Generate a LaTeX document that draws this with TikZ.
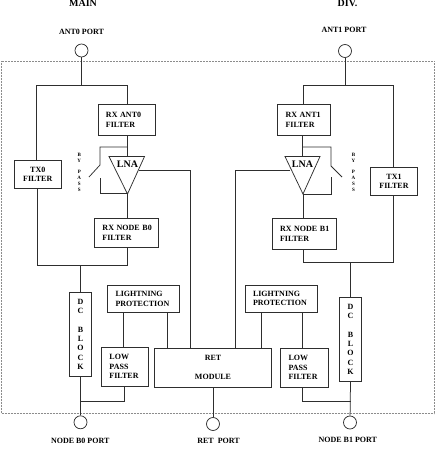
\documentclass[tikz,border=0pt]{standalone}
\usepackage{fontspec}
\setmainfont{Liberation Serif}
\newcommand{\bxn}[8][]{%
  \pgfmathsetmacro{\bw}{#5-#3}\pgfmathsetmacro{\bh}{#6-#4}%
  \pgfmathsetmacro{\tw}{#5-#3-2*#7}%
  \node[boxn,minimum width=\bw pt,minimum height=\bh pt,text width=\tw pt,#1] (#2) at ({(#3+#5)/2},{(#4+#6)/2}) {#8};}
\tikzset{
  x=1pt,y=-1pt,
  ink/.style={draw=black!82,line width=0.75pt},
  boxn/.style={ink,inner sep=0pt,align=left,font=\fontsize{8}{9.3}\selectfont\bfseries},
  conn/.style={ink},
  port/.style={ink,circle,minimum size=13pt,inner sep=0pt},
  lab/.style={font=\fontsize{8}{9.3}\selectfont\bfseries,inner sep=0pt},
  head/.style={font=\fontsize{10}{12}\selectfont\bfseries,inner sep=0pt},
  lnat/.style={font=\fontsize{10}{12}\selectfont\bfseries,inner sep=0pt},
  tiny/.style={font=\fontsize{5}{5.8}\selectfont\bfseries,inner sep=0pt,align=center},
  frame/.style={draw=black!45,densely dotted,line width=0.5pt}
}
\begin{document}
\begin{tikzpicture}
\useasboundingbox (0,0) rectangle (435,451);
\coordinate (fa) at (1.5,61); \coordinate (fb) at (434,413.5);
\draw[frame] (fa) rectangle (fb);
% headings and port labels
\node[head] (hmain) at (83,3.5) {MAIN};
\node[head] (hdiv) at (347.5,3.5) {DIV.};
\node[lab] (lant0) at (81.5,31.7) {ANT0 PORT};
\node[lab] (lant1) at (344,29.7) {ANT1 PORT};
\node[lab] (lb0) at (80.2,441) {NODE B0 PORT};
\node[lab] (lret) at (218.5,440.7) {RET\ \ PORT};
\node[lab] (lb1) at (347.8,440) {NODE B1 PORT};
% ports
\node[port] (p0) at (81.5,50.5) {};
\node[port] (p1) at (345,51) {};
\node[port] (pb0) at (80.5,422.3) {};
\node[port] (pret) at (213,424) {};
\node[port] (pb1) at (350,422.5) {};
% left column
\bxn{rxa0}{98}{104.5}{155.5}{135}{8}{RX ANT0\\FILTER}
\bxn[align=center]{tx0}{14}{160}{61.5}{188.5}{2}{TX0\\FILTER}
\bxn{rxn0}{94.5}{218}{158.5}{247.5}{8}{\mbox{RX NODE B0}\\FILTER}
\bxn[align=center]{dc0}{69.5}{292}{91.5}{376.5}{2}{D\\C\\[9.3pt]B\\L\\O\\C\\K}
\bxn{lp0}{101.5}{347}{148.5}{386}{8}{LOW\\PASS\\FILTER}
\bxn{lg0}{107.5}{285.5}{179.5}{312.5}{8}{LIGHTNING\\\mbox{PROTECTION}}
% right column
\bxn{rxa1}{277.5}{104.5}{330.5}{135}{8}{RX ANT1\\FILTER}
\bxn[align=center]{tx1}{370.5}{167.5}{417.5}{195.5}{2}{TX1\\FILTER}
\bxn{rxn1}{272}{218.5}{336}{249}{8}{\mbox{RX NODE B1}\\FILTER}
\bxn[align=center]{dc1}{339.5}{297}{361.5}{381.5}{2}{D\\C\\[9.3pt]B\\L\\O\\C\\K}
\bxn{lp1}{280.5}{348}{328}{387}{8}{LOW\\PASS\\FILTER}
\bxn{lg1}{245}{285}{317}{312}{8}{LIGHTNING\\\mbox{PROTECTION}}
% RET
\bxn[align=center]{ret}{154.5}{348}{271.5}{387}{2}{RET\\[9.3pt]MODULE}
% LNA triangles
\coordinate (t0a) at (109,156.5); \coordinate (t0b) at (144.5,156.5); \coordinate (t0c) at (127.5,194);
\coordinate (t1a) at (285,156.5); \coordinate (t1b) at (320,156.5); \coordinate (t1c) at (303,194);
\draw[ink,line join=miter] (t0a) -- (t0b) -- (t0c) -- cycle;
\draw[ink,line join=miter] (t1a) -- (t1b) -- (t1c) -- cycle;
\node[lnat] (lna0) at (127.5,164.2) {LNA};
\node[lnat] (lna1) at (302.5,164.2) {LNA};
% bypass labels
\node[tiny] (by0) at (79.3,158) {B\\Y};
\node[tiny] (pass0) at (79.3,181) {P\\A\\S\\S};
\node[tiny] (by1) at (353.5,158) {B\\Y};
\node[tiny] (pass1) at (353.5,181) {P\\A\\S\\S};
% junctions
\coordinate (j0) at (81.5,85); \coordinate (j0l) at (36.5,85); \coordinate (j0r) at (127,85);
\coordinate (k0) at (80.5,265.3); \coordinate (k0l) at (37.5,265.3); \coordinate (k0r) at (127,265.3);
\coordinate (j1) at (345,85); \coordinate (j1l) at (303.5,85); \coordinate (j1r) at (393,85);
\coordinate (k1) at (350.5,262); \coordinate (k1l) at (303.5,262); \coordinate (k1r) at (393.5,262);
% ANT feeds
\draw[conn] (p0) -- (j0);
\draw[conn] (rxa0.north -| j0r) -- (j0r) -- (j0l) -- (tx0.north -| j0l);
\draw[conn] (p1) -- (j1);
\draw[conn] (rxa1.north -| j1l) -- (j1l) -- (j1r) -- (tx1.north -| j1r);
% RX chain left
\coordinate (s0a) at (127,147); \coordinate (s0b) at (100,147); \coordinate (s0c) at (100,165); \coordinate (s0d) at (89,177);
\coordinate (s0e) at (100,178); \coordinate (s0f) at (100,193.5); \coordinate (s0g) at (127,193.5);
\draw[conn] (rxa0.south -| s0a) -- (s0a |- t0a);
\draw[conn] (s0a) -- (s0b) -- (s0c) -- (s0d);
\draw[conn] (s0e) -- (s0f) -- (s0g);
\draw[conn] (t0c) -- (rxn0.north -| t0c);
\coordinate (o0a) at (139,170); \coordinate (o0b) at (190.5,170);
\draw[conn] (o0a) -- (o0b) -- (ret.north -| o0b);
% RX chain right
\coordinate (s1a) at (302.5,147); \coordinate (s1b) at (331,147); \coordinate (s1c) at (331,166); \coordinate (s1d) at (342,177);
\coordinate (s1e) at (331,177); \coordinate (s1f) at (331,194); \coordinate (s1g) at (303,194);
\draw[conn] (rxa1.south -| s1a) -- (s1a |- t1a);
\draw[conn] (s1a) -- (s1b) -- (s1c) -- (s1d);
\draw[conn] (s1e) -- (s1f) -- (s1g);
\draw[conn] (t1c) -- (rxn1.north -| t1c);
\coordinate (o1a) at (290,170); \coordinate (o1b) at (235.5,170);
\draw[conn] (o1a) -- (o1b) -- (ret.north -| o1b);
% combiners
\draw[conn] (tx0.south -| k0l) -- (k0l) -- (k0r) -- (rxn0.south -| k0r);
\draw[conn] (k0) -- (dc0.north -| k0);
\draw[conn] (tx1.south -| k1r) -- (k1r) -- (k1l) -- (rxn1.south -| k1l);
\draw[conn] (k1) -- (dc1.north -| k1);
% to node ports
\draw[conn] (dc0.south) -- (pb0);
\draw[conn] (dc1.south) -- (pb1);
\coordinate (m0) at (80.5,401); \coordinate (m0r) at (124,401);
\coordinate (m1) at (350.5,401); \coordinate (m1l) at (302,401);
\draw[conn] (lp0.south -| m0r) -- (m0r) -- (m0);
\draw[conn] (lp1.south -| m1l) -- (m1l) -- (m1);
% lightning
\coordinate (g0a) at (123.5,300); \coordinate (g0b) at (167.5,300);
\coordinate (g1a) at (261.5,300); \coordinate (g1b) at (302.5,300);
\draw[conn] (lg0.south -| g0a) -- (lp0.north -| g0a);
\draw[conn] (lg0.south -| g0b) -- (ret.north -| g0b);
\draw[conn] (lg1.south -| g1a) -- (ret.north -| g1a);
\draw[conn] (lg1.south -| g1b) -- (lp1.north -| g1b);
% RET port
\draw[conn] (ret.south -| pret) -- (pret);
\end{tikzpicture}
\end{document}
